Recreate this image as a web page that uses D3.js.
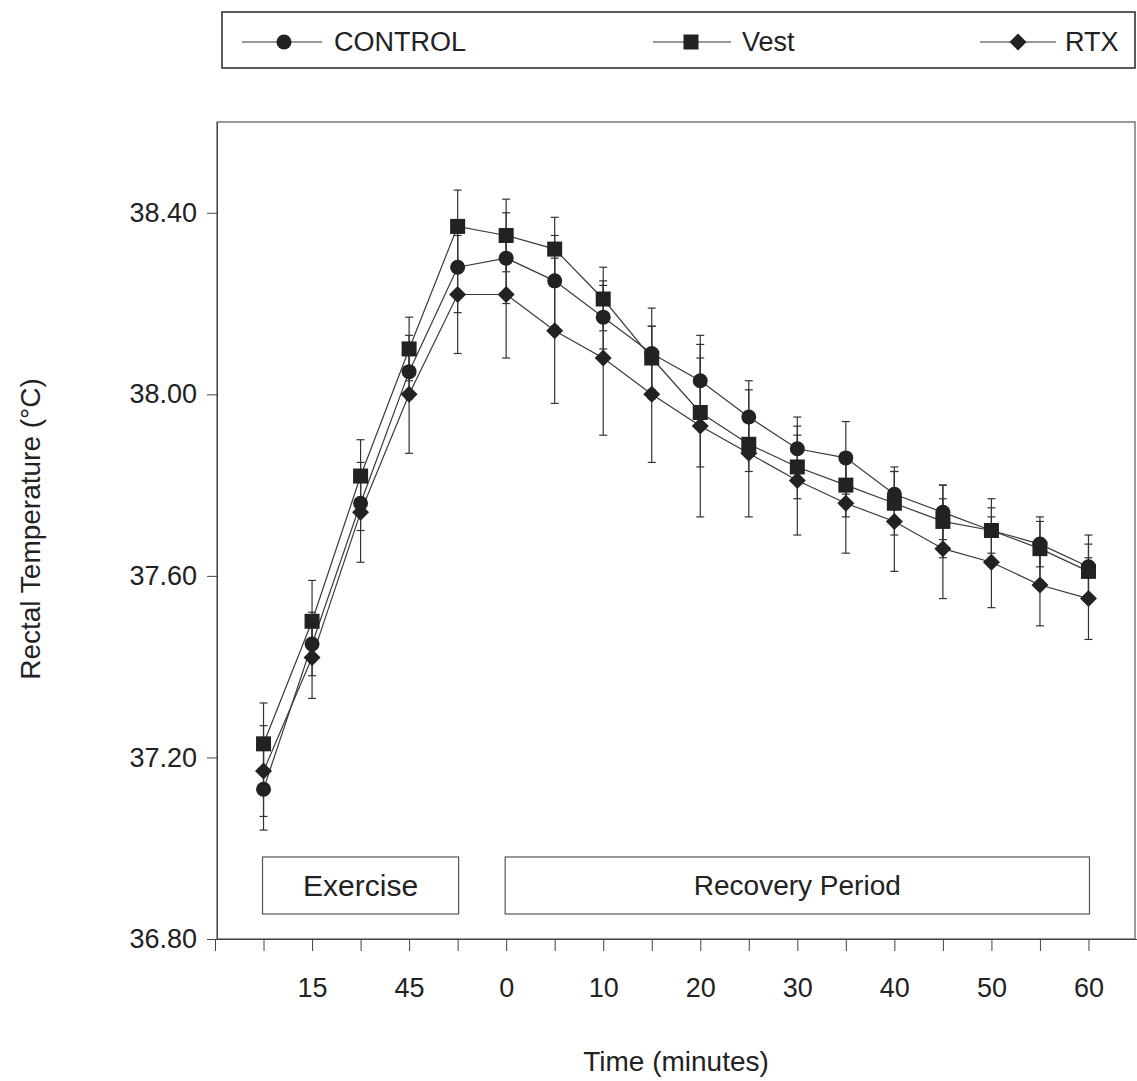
<!DOCTYPE html>
<html>
<head>
<meta charset="utf-8">
<script src="https://cdn.jsdelivr.net/npm/d3@7"></script>
<style>
  body { margin: 0; background: #fff; }
  text { font-family: "Liberation Sans", Arial, sans-serif; fill: #222; }
</style>
</head>
<body>
<div id="chart"></div>
<script>
// sample times: exercise (E) then recovery (R), minutes
const timePoints = ["E0", "E15", "E30", "E45", "E60", "R0", "R5", "R10", "R15", "R20", "R25", "R30", "R35", "R40", "R45", "R50", "R55", "R60"];
const tickLabels = { E15: "15", E45: "45", R0: "0", R10: "10", R20: "20", R30: "30", R40: "40", R50: "50", R60: "60" };
const yTicks = [36.8, 37.2, 37.6, 38.0, 38.4];

const control = [37.13, 37.45, 37.76, 38.05, 38.28, 38.30, 38.25, 38.17, 38.09, 38.03, 37.95, 37.88, 37.86, 37.78, 37.74, 37.70, 37.67, 37.62];
const controlErr = [0.09, 0.07, 0.06, 0.06, 0.10, 0.10, 0.10, 0.07, 0.10, 0.08, 0.08, 0.07, 0.08, 0.06, 0.06, 0.05, 0.05, 0.07];
const vest = [37.23, 37.50, 37.82, 38.10, 38.37, 38.35, 38.32, 38.21, 38.08, 37.96, 37.89, 37.84, 37.80, 37.76, 37.72, 37.70, 37.66, 37.61];
const vestErr = [0.09, 0.09, 0.08, 0.07, 0.08, 0.08, 0.07, 0.07, 0.07, 0.12, 0.06, 0.07, 0.07, 0.07, 0.08, 0.07, 0.07, 0.06];
const rtx = [37.17, 37.42, 37.74, 38.00, 38.22, 38.22, 38.14, 38.08, 38.00, 37.93, 37.87, 37.81, 37.76, 37.72, 37.66, 37.63, 37.58, 37.55];
const rtxErr = [0.10, 0.09, 0.11, 0.13, 0.13, 0.14, 0.16, 0.17, 0.15, 0.20, 0.14, 0.12, 0.11, 0.11, 0.11, 0.10, 0.09, 0.09];

const width = 1137, height = 1081;
const svg = d3.select("#chart").append("svg").attr("width", width).attr("height", height);

const x = d3.scalePoint().domain(["start", ...timePoints, "end"]).range([215, 1137]);
const y = d3.scaleLinear().domain([36.8, 38.6]).range([939, 122]);

const plotLeft = 217, plotRight = 1135;

// plot frame
svg.append("rect")
    .attr("x", plotLeft).attr("y", y(38.6))
    .attr("width", plotRight - plotLeft).attr("height", y(36.8) - y(38.6))
    .attr("fill", "none").attr("stroke", "#555").attr("stroke-width", 1.2);

// y axis
const yAxis = svg.append("g").attr("transform", `translate(${plotLeft},0)`)
    .call(d3.axisLeft(y).tickValues(yTicks).tickFormat(d3.format(".2f")).tickSize(10).tickSizeOuter(0).tickPadding(10));
yAxis.select(".domain").attr("stroke", "#444");
yAxis.selectAll(".tick line").attr("stroke", "#444");
yAxis.selectAll(".tick text").attr("font-size", 27).attr("fill", "#222")
    .style("font-family", "'Liberation Sans', Arial, sans-serif");

// x axis
const xAxis = svg.append("g").attr("transform", `translate(0,${y(36.8)})`)
    .call(d3.axisBottom(x).tickFormat(d => tickLabels[d] || "").tickSize(12).tickSizeOuter(0).tickPadding(27));
xAxis.select(".domain").attr("stroke", "#444");
xAxis.selectAll(".tick line").attr("stroke", "#444");
xAxis.selectAll(".tick text").attr("font-size", 27).attr("fill", "#222")
    .style("font-family", "'Liberation Sans', Arial, sans-serif");

// axis titles
svg.append("text")
    .attr("x", 676).attr("y", 1071)
    .attr("text-anchor", "middle").attr("font-size", 28)
    .text("Time (minutes)");
svg.append("text")
    .attr("transform", "translate(40,529) rotate(-90)")
    .attr("text-anchor", "middle").attr("font-size", 28)
    .text("Rectal Temperature (°C)");

// phase boxes
const phaseBoxes = [
    { label: "Exercise", from: "E0", to: "E60", size: 30 },
    { label: "Recovery Period", from: "R0", to: "R60", size: 28 }
];
const boxTop = y(36.8) - 82, boxH = 57;
phaseBoxes.forEach(b => {
    const x0 = x(b.from) - 1, x1 = x(b.to) + 1;
    svg.append("rect").attr("x", x0).attr("y", boxTop).attr("width", x1 - x0).attr("height", boxH)
        .attr("fill", "#fff").attr("stroke", "#555").attr("stroke-width", 1.2);
    svg.append("text").attr("x", (x0 + x1) / 2).attr("y", boxTop + boxH / 2)
        .attr("dy", "0.35em").attr("text-anchor", "middle").attr("font-size", b.size)
        .text(b.label);
});

function drawMarker(g, shape, cx, cy) {
    if (shape === "circle") {
        g.append("circle").attr("cx", cx).attr("cy", cy).attr("r", 7.5).attr("fill", "#222");
    } else if (shape === "square") {
        g.append("rect").attr("x", cx - 7.5).attr("y", cy - 7.5).attr("width", 15).attr("height", 15).attr("fill", "#222");
    } else {
        g.append("path").attr("d", `M${cx},${cy - 8.5}L${cx + 8.5},${cy}L${cx},${cy + 8.5}L${cx - 8.5},${cy}Z`).attr("fill", "#222");
    }
}

const seriesData = [
    { name: "CONTROL", values: control, err: controlErr, shape: "circle" },
    { name: "Vest", values: vest, err: vestErr, shape: "square" },
    { name: "RTX", values: rtx, err: rtxErr, shape: "diamond" }
];

// error bars (behind everything)
const errG = svg.append("g");
seriesData.forEach(s => {
    s.values.forEach((v, i) => {
        const cx = x(timePoints[i]);
        const yTop = y(v + s.err[i]), yBot = y(v - s.err[i]);
        errG.append("line").attr("x1", cx).attr("x2", cx).attr("y1", yTop).attr("y2", yBot)
            .attr("stroke", "#333").attr("stroke-width", 1.2);
        [yTop, yBot].forEach(yy => errG.append("line").attr("x1", cx - 4).attr("x2", cx + 4)
            .attr("y1", yy).attr("y2", yy).attr("stroke", "#333").attr("stroke-width", 1.2));
    });
});

// lines
const line = d3.line().x((d, i) => x(timePoints[i])).y(d => y(d));
seriesData.forEach(s => {
    svg.append("path").datum(s.values).attr("d", line)
        .attr("fill", "none").attr("stroke", "#3a3a3a").attr("stroke-width", 1.2);
});

// markers
seriesData.forEach(s => {
    const g = svg.append("g");
    s.values.forEach((v, i) => drawMarker(g, s.shape, x(timePoints[i]), y(v)));
});

// legend
const legend = svg.append("g");
legend.append("rect").attr("x", 222).attr("y", 12).attr("width", 913).attr("height", 56)
    .attr("fill", "#fff").attr("stroke", "#333").attr("stroke-width", 1.6);
const legendPos = [
    { x0: 242, mx: 284, x1: 322, tx: 334 },
    { x0: 653, mx: 691, x1: 731, tx: 742 },
    { x0: 980, mx: 1018, x1: 1056, tx: 1065 }
];
seriesData.forEach((s, i) => {
    const p = legendPos[i];
    legend.append("line").attr("x1", p.x0).attr("x2", p.x1).attr("y1", 42).attr("y2", 42)
        .attr("stroke", "#333").attr("stroke-width", 1.2);
    drawMarker(legend, s.shape, p.mx, 42);
    legend.append("text").attr("x", p.tx).attr("y", 42).attr("dy", "0.35em")
        .attr("font-size", 27).text(s.name);
});
</script>
</body>
</html>
